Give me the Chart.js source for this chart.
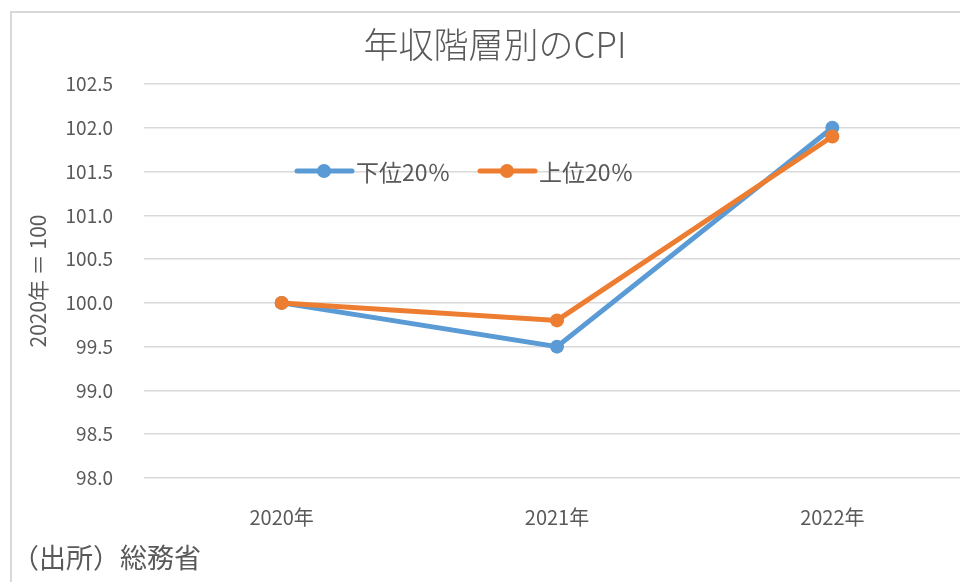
<!DOCTYPE html>
<html lang="ja">
<head>
<meta charset="utf-8">
<script src="https://cdn.jsdelivr.net/npm/chart.js@4"></script>
<style>
  html, body { margin: 0; padding: 0; background: #fff; overflow: hidden; }
  body { width: 960px; height: 582px; position: relative; }
  #frame { position: absolute; left: 10px; top: 11px; width: 1000px; height: 620px;
           border: 2px solid #d9d9d9; box-sizing: border-box; }
  #wrap { position: absolute; left: 0; top: 0; width: 990px; height: 582px; }
  #source { position: absolute; left: 12px; top: 541px; font: 27px/32px "Noto Sans CJK JP";
            color: #595959; }
</style>
</head>
<body>
<div id="frame"></div>
<div id="wrap"><canvas id="cpiChart" width="990" height="582"></canvas></div>
<div id="source">（出所）総務省</div>
<script>
const years = ["2020年", "2021年", "2022年"];
const lower20 = [100.0, 99.5, 102.0];
const upper20 = [100.0, 99.8, 101.9];
const seriesNames = ["下位20％", "上位20％"];
const yTicks = [98.0, 98.5, 99.0, 99.5, 100.0, 100.5, 101.0, 101.5, 102.0, 102.5];

const FONT = '"Noto Sans CJK JP", "Noto Sans", sans-serif';
const GREY = "#595959";

// legend drawn over the plot like the original (no box, sits on the 101.5 line)
const innerLegend = {
  id: "innerLegend",
  afterDatasetsDraw(chart) {
    const ctx = chart.ctx;
    const y = 171;
    let x = 297;
    ctx.save();
    ctx.font = "23px " + FONT;
    ctx.textBaseline = "middle";
    chart.data.datasets.forEach(function (ds) {
      ctx.strokeStyle = ds.borderColor;
      ctx.lineWidth = 5;
      ctx.lineCap = "round";
      ctx.beginPath();
      ctx.moveTo(x, y);
      ctx.lineTo(x + 55, y);
      ctx.stroke();
      ctx.fillStyle = ds.borderColor;
      ctx.beginPath();
      ctx.arc(x + 27, y, 7, 0, Math.PI * 2);
      ctx.fill();
      ctx.fillStyle = GREY;
      ctx.fillText(ds.label, x + 59, y + 1);
      x += 183;
    });
    ctx.restore();
  },
};

new Chart(document.getElementById("cpiChart"), {
  type: "line",
  data: {
    labels: years,
    datasets: [
      {
        label: seriesNames[0],
        data: lower20,
        borderColor: "#5b9bd5",
        backgroundColor: "#5b9bd5",
        borderWidth: 5,
        pointRadius: 7,
        pointBorderWidth: 0,
        order: 1,
      },
      {
        label: seriesNames[1],
        data: upper20,
        borderColor: "#ed7d31",
        backgroundColor: "#ed7d31",
        borderWidth: 5,
        pointRadius: 7,
        pointBorderWidth: 0,
        order: 0,
      },
    ],
  },
  options: {
    responsive: false,
    animation: false,
    devicePixelRatio: 1,
    layout: { padding: { left: 20, right: 20, top: 0, bottom: 0 } },
    plugins: {
      legend: { display: false },
      tooltip: { enabled: false },
      title: {
        display: true,
        text: "年収階層別のCPI",
        color: GREY,
        font: { family: FONT, size: 35, weight: "300", lineHeight: 1.2 },
        padding: { top: 24, bottom: 18 },
      },
    },
    scales: {
      x: {
        offset: true,
        grid: { display: false, drawTicks: false },
        border: { display: false },
        ticks: { color: GREY, font: { family: FONT, size: 20 }, padding: 27, maxRotation: 0 },
        afterFit: function (s) { s.height = 104; },
      },
      y: {
        min: 98,
        max: 102.5,
        afterBuildTicks: function (s) {
          s.ticks = yTicks.map(function (v) { return { value: v }; });
        },
        grid: { color: "#d9d9d9", lineWidth: 1.5, drawTicks: false },
        border: { display: false },
        ticks: {
          color: GREY,
          font: { family: FONT, size: 19 },
          padding: 31,
          callback: function (v) { return Number(v).toFixed(1); },
        },
        title: {
          display: true,
          text: "2020年 ＝ 100",
          color: GREY,
          font: { family: FONT, size: 21 },
          padding: { top: 5, bottom: 0 },
        },
        afterFit: function (s) { s.width = 124; },
      },
    },
  },
  plugins: [innerLegend],
});
</script>
</body>
</html>
